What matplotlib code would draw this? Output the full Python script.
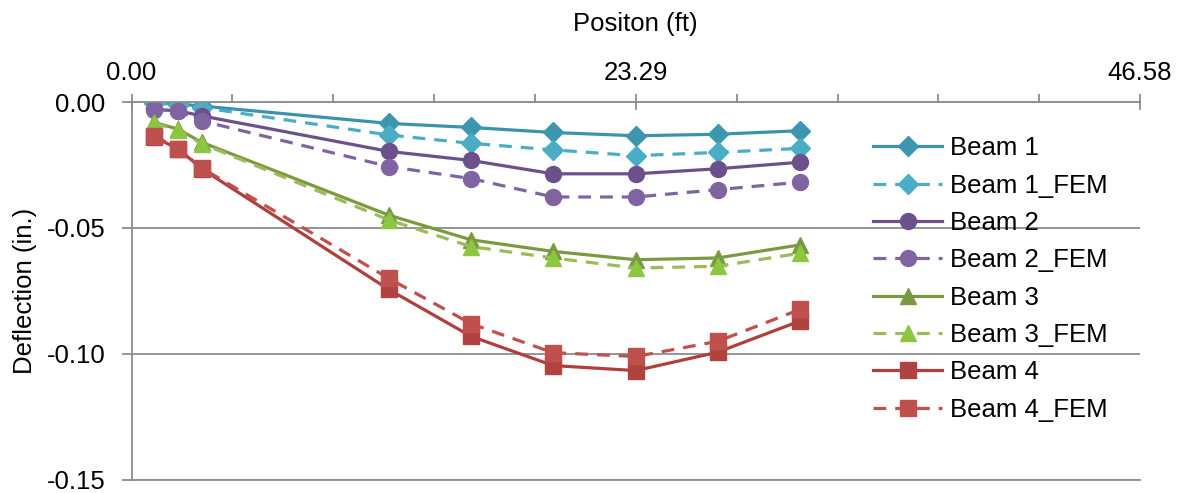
import matplotlib.pyplot as plt
from matplotlib.ticker import FixedLocator, MultipleLocator

plt.rcParams['font.family'] = ['Liberation Sans', 'DejaVu Sans']

# positions along the beam (ft)
pos = [1.05, 2.16, 3.24, 11.88, 15.68, 19.47, 23.29, 27.07, 30.88]

# deflections (in.)
beam1 = [-0.0002, -0.0008, -0.0016, -0.0085, -0.0101, -0.0121, -0.0134, -0.0128, -0.0114]
beam1_fem = [-0.0004, -0.0012, -0.0022, -0.0131, -0.0164, -0.0190, -0.0213, -0.0200, -0.0184]
beam2 = [-0.0029, -0.0035, -0.0055, -0.0196, -0.0232, -0.0285, -0.0285, -0.0265, -0.0239]
beam2_fem = [-0.0030, -0.0036, -0.0075, -0.0256, -0.0304, -0.0377, -0.0377, -0.0348, -0.0318]
beam3 = [-0.0081, -0.0108, -0.0160, -0.0449, -0.0547, -0.0593, -0.0626, -0.0619, -0.0567]
beam3_fem = [-0.0085, -0.0112, -0.0165, -0.0468, -0.0574, -0.0619, -0.0659, -0.0652, -0.0600]
beam4 = [-0.0140, -0.0186, -0.0265, -0.0744, -0.0930, -0.1046, -0.1066, -0.0993, -0.0869]
beam4_fem = [-0.0135, -0.0185, -0.0262, -0.0700, -0.0880, -0.0995, -0.1010, -0.0950, -0.0823]

span = 46.58

series = [
    ('Beam 1', beam1, '-', 'D', '#3a93ad', '#3c96b0'),
    ('Beam 1_FEM', beam1_fem, '--', 'D', '#4bacc6', '#4bacc6'),
    ('Beam 2', beam2, '-', 'o', '#6b508c', '#6b508c'),
    ('Beam 2_FEM', beam2_fem, '--', 'o', '#8064a2', '#8064a2'),
    ('Beam 3', beam3, '-', '^', '#7a9a40', '#7a9a40'),
    ('Beam 3_FEM', beam3_fem, '--', '^', '#9bbb59', '#8dc63f'),
    ('Beam 4', beam4, '-', 's', '#b03e3b', '#b04340'),
    ('Beam 4_FEM', beam4_fem, '--', 's', '#c0504d', '#c0504d'),
]
msize = {'D': 10, 'o': 11.5, '^': 11, 's': 11}

fig = plt.figure(figsize=(11.83, 4.93), dpi=100)
ax = fig.add_axes([0.1112, 0.0265, 0.8525, 0.7666])

for name, vals, ls, mk, lc, mc in series:
    ax.plot(pos, vals, linestyle=ls, color=lc, linewidth=2.3, marker=mk,
            markersize=msize[mk], markerfacecolor=mc, markeredgecolor=mc,
            dashes=(4, 2.8) if ls == '--' else (),
            label=name)

ax.set_xlim(0, span)
ax.set_ylim(-0.15, 0)

ax.xaxis.tick_top()
ax.xaxis.set_label_position('top')
ax.xaxis.set_major_locator(FixedLocator([0, span / 2, span]))
ax.xaxis.set_minor_locator(MultipleLocator(span / 10))
ax.set_xticklabels(['0.00', '23.29', '46.58'])
ax.tick_params(axis='x', which='major', direction='inout', length=12, width=1.3,
               color='#8c8c8c', labelsize=18.5, pad=6)
ax.tick_params(axis='x', which='minor', direction='out', length=6, width=1.3,
               color='#8c8c8c')

ax.yaxis.set_major_locator(MultipleLocator(0.05))
ax.yaxis.set_major_formatter(plt.FuncFormatter(lambda v, p: f'{v:.2f}'))
ax.tick_params(axis='y', direction='out', length=7, width=1.3, color='#8c8c8c',
               labelsize=18.5, pad=12)
ax.grid(axis='y', color='#8c8c8c', linewidth=1.3)
ax.set_axisbelow(True)

ax.spines['right'].set_visible(False)
for s in ['left', 'top', 'bottom']:
    ax.spines[s].set_color('#8c8c8c')
    ax.spines[s].set_linewidth(1.3)

ax.set_xlabel('Positon (ft)', fontsize=18.5, labelpad=22)
ax.set_ylabel('Deflection (in.)', fontsize=18.5, labelpad=7)

ax.legend(loc='center left', bbox_to_anchor=(0.727, 0.434), bbox_transform=fig.transFigure,
          frameon=False, fontsize=18.5, borderpad=0, labelspacing=0.52,
          handlelength=2.7, handletextpad=0.3)

fig.savefig('out.png', dpi=100)
